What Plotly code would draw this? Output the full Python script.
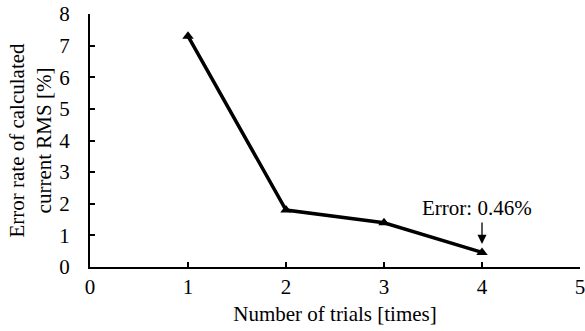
import plotly.graph_objects as go

# Error rate of the calculated current RMS per trial
trials = [1, 2, 3, 4]
error_rate = [7.3, 1.8, 1.4, 0.46]
x_ticks = [0, 1, 2, 3, 4, 5]
y_ticks = [0, 1, 2, 3, 4, 5, 6, 7, 8]

FONT = "Liberation Serif"

fig = go.Figure()
fig.add_trace(go.Scatter(
    x=trials, y=error_rate, mode="lines+markers",
    line=dict(color="black", width=3.5),
    marker=dict(symbol="triangle-up", size=10, color="black"),
    showlegend=False, cliponaxis=False,
))

# Arrow pointing at the final trial, with its label above
fig.add_annotation(x=trials[-1], y=error_rate[-1] + 0.27, xref="x", yref="y",
                   text="", showarrow=True, ax=0, ay=-23,
                   arrowhead=2, arrowsize=1.4, arrowwidth=1.3, arrowcolor="black")
fig.add_annotation(x=trials[-1], y=error_rate[-1] + 0.27, xref="x", yref="y",
                   text=f"Error: {error_rate[-1]:.2f}%", showarrow=False,
                   xshift=-5, yshift=36, font=dict(family=FONT, size=21, color="black"))

fig.update_layout(
    width=585, height=331,
    margin=dict(l=90, r=5, t=14, b=64, autoexpand=False),
    paper_bgcolor="white", plot_bgcolor="white",
    font=dict(family=FONT, size=21, color="black"),
)
fig.update_xaxes(
    range=[0, 5], tickvals=x_ticks, ticks="inside", ticklen=5, tickwidth=1.5,
    tickcolor="black", showline=True, linecolor="black", linewidth=2,
    showgrid=False, zeroline=False, ticklabelstandoff=0, ticklabeloverflow="allow",
    automargin=False,
    title=dict(text="Number of trials [times]", standoff=8, font=dict(family=FONT, size=21)),
)
fig.update_yaxes(
    range=[0, 8], tickvals=y_ticks, ticks="inside", ticklen=5, tickwidth=1.5,
    tickcolor="black", showline=True, linecolor="black", linewidth=2,
    showgrid=False, zeroline=False, ticklabelstandoff=14, ticklabeloverflow="allow",
    automargin=False,
    title=dict(text="Error rate of calculated<br>current RMS [%]", standoff=2,
               font=dict(family=FONT, size=21)),
)

fig.write_html("out.html")
